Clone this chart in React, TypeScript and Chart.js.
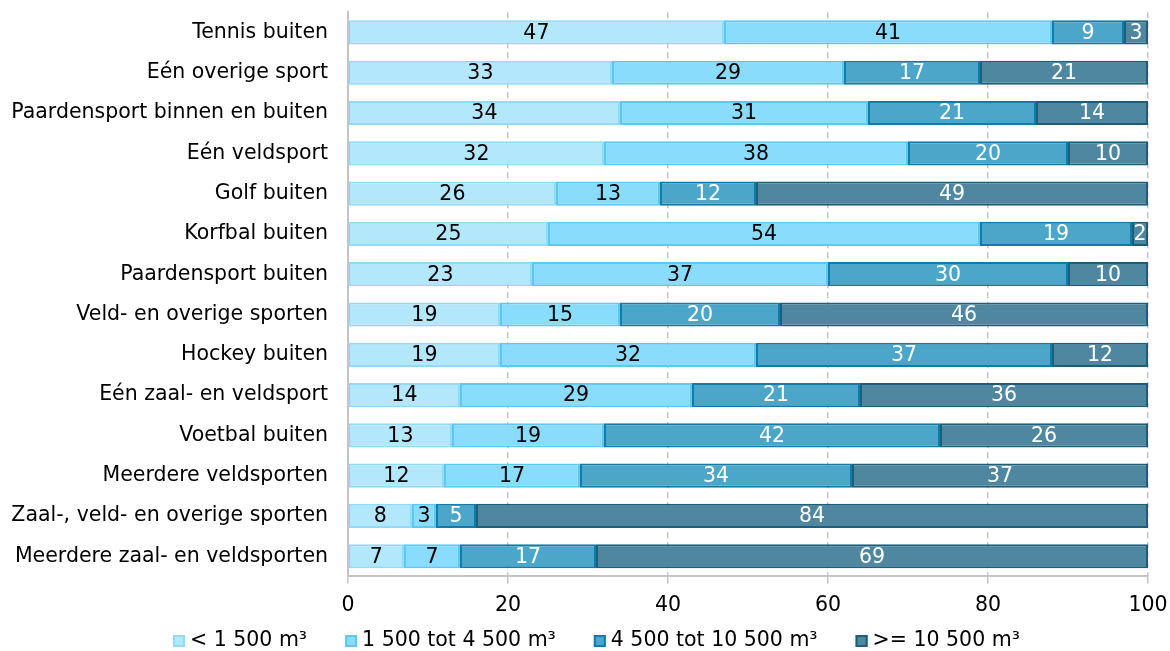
import React, { useEffect, useRef } from "react";
import { Chart, registerables } from "chart.js";

Chart.register(...registerables);

const categories = [
  "Tennis buiten",
  "Eén overige sport",
  "Paardensport binnen en buiten",
  "Eén veldsport",
  "Golf buiten",
  "Korfbal buiten",
  "Paardensport buiten",
  "Veld- en overige sporten",
  "Hockey buiten",
  "Eén zaal- en veldsport",
  "Voetbal buiten",
  "Meerdere veldsporten",
  "Zaal-, veld- en overige sporten",
  "Meerdere zaal- en veldsporten",
];

const seriesNames = ["< 1 500 m³", "1 500 tot 4 500 m³", "4 500 tot 10 500 m³", ">= 10 500 m³"];

const small = [47, 33, 34, 32, 26, 25, 23, 19, 19, 14, 13, 12, 8, 7];
const medium = [41, 29, 31, 38, 13, 54, 37, 15, 32, 29, 19, 17, 3, 7];
const large = [9, 17, 21, 20, 12, 19, 30, 20, 37, 21, 42, 34, 5, 17];
const xlarge = [3, 21, 14, 10, 49, 2, 10, 46, 12, 36, 26, 37, 84, 69];

const xTicks = [0, 20, 40, 60, 80, 100];

const fills = ["#b3e7fb", "#8adcfc", "#4ba6c9", "#4e879f"];
const borders = ["#90dbf7", "#5cc9f1", "#117ca7", "#1d5f7b"];
const labelColors = ["#000000", "#000000", "#ffffff", "#ffffff"];

const FONT = "'DejaVu Sans', sans-serif";
const FS = 20.5;

const valueLabels = {
  id: "valueLabels",
  afterDatasetsDraw(chart: any) {
    const ctx = chart.ctx;
    ctx.save();
    ctx.font = `${FS}px ${FONT}`;
    ctx.textAlign = "center";
    ctx.textBaseline = "middle";
    chart.data.datasets.forEach((ds: any, di: number) => {
      const meta = chart.getDatasetMeta(di);
      meta.data.forEach((bar: any, i: number) => {
        const v = ds.data[i];
        const cx = (bar.x + bar.base) / 2;
        ctx.fillStyle = labelColors[di];
        ctx.fillText(String(v), cx, bar.y + 1);
      });
    });
    ctx.restore();
  },
};

const customLegend = {
  id: "customLegend",
  afterDraw(chart: any) {
    const ctx = chart.ctx;
    ctx.save();
    ctx.font = `${FS}px ${FONT}`;
    ctx.textBaseline = "middle";
    ctx.textAlign = "left";
    const box = 12;
    const gapText = 5;
    const gapItem = 38;
    let x = 173;
    const y = 641;
    seriesNames.forEach((n, i) => {
      ctx.fillStyle = fills[i];
      ctx.strokeStyle = borders[i];
      ctx.lineWidth = 2;
      ctx.fillRect(x, y - box / 2, box, box);
      ctx.strokeRect(x + 1, y - box / 2 + 1, box - 2, box - 2);
      ctx.fillStyle = "#000";
      ctx.fillText(n, x + box + gapText, y);
      x += box + gapText + ctx.measureText(n).width + gapItem;
    });
    ctx.restore();
  },
};

export default function App() {
  const ref = useRef<HTMLCanvasElement>(null);
  useEffect(() => {
    const series = [small, medium, large, xlarge];
    const chart = new Chart(ref.current!, {
      type: "bar",
      data: {
        labels: categories,
        datasets: series.map((d, i) => ({
          label: seriesNames[i],
          data: d,
          backgroundColor: fills[i],
          borderColor: borders[i],
          borderWidth: 2,
          borderSkipped: false,
          barPercentage: 0.6,
          categoryPercentage: 1,
        })),
      },
      options: {
        indexAxis: "y",
        responsive: false,
        animation: false,
        devicePixelRatio: 1,
        layout: { padding: { top: 11, right: 22, bottom: 23, left: 0 } },
        plugins: {
          legend: { display: false },
          tooltip: { enabled: false },
          title: { display: false },
        },
        scales: {
          x: {
            stacked: true,
            min: 0,
            max: 100,
            afterBuildTicks: (scale: any) => {
              scale.ticks = xTicks.map((v) => ({ value: v }));
            },
            afterFit: (scale: any) => {
              scale.paddingRight = 0;
              scale.paddingLeft = 0;
            },
            ticks: {
              color: "#000",
              font: { family: FONT, size: FS },
              padding: 10,
            },
            grid: {
              color: "#c4c4c4",
              lineWidth: 1.5,
              drawTicks: true,
              tickLength: 7,
              tickColor: "#c4c4c4",
              tickBorderDash: [],
            },
            border: { display: true, color: "#c4c4c4", width: 2, dash: [6, 4] },
          },
          y: {
            stacked: true,
            afterFit: (scale: any) => {
              scale.width = 348;
            },
            ticks: {
              color: "#000",
              font: { family: FONT, size: FS },
              padding: 0,
            },
            grid: {
              display: true,
              drawOnChartArea: false,
              drawTicks: true,
              tickLength: 20,
              tickColor: "rgba(0,0,0,0)",
              color: "rgba(0,0,0,0)",
            },
            border: { display: true, color: "#c4c4c4", width: 2 },
          },
        },
      },
      plugins: [valueLabels, customLegend],
    });
    return () => chart.destroy();
  }, []);
  return (
    <div style={{ position: "fixed", left: 0, top: 0, width: 1170, height: 651, background: "#fff" }}>
      <canvas ref={ref} width={1170} height={651} style={{ width: 1170, height: 651 }} />
    </div>
  );
}
